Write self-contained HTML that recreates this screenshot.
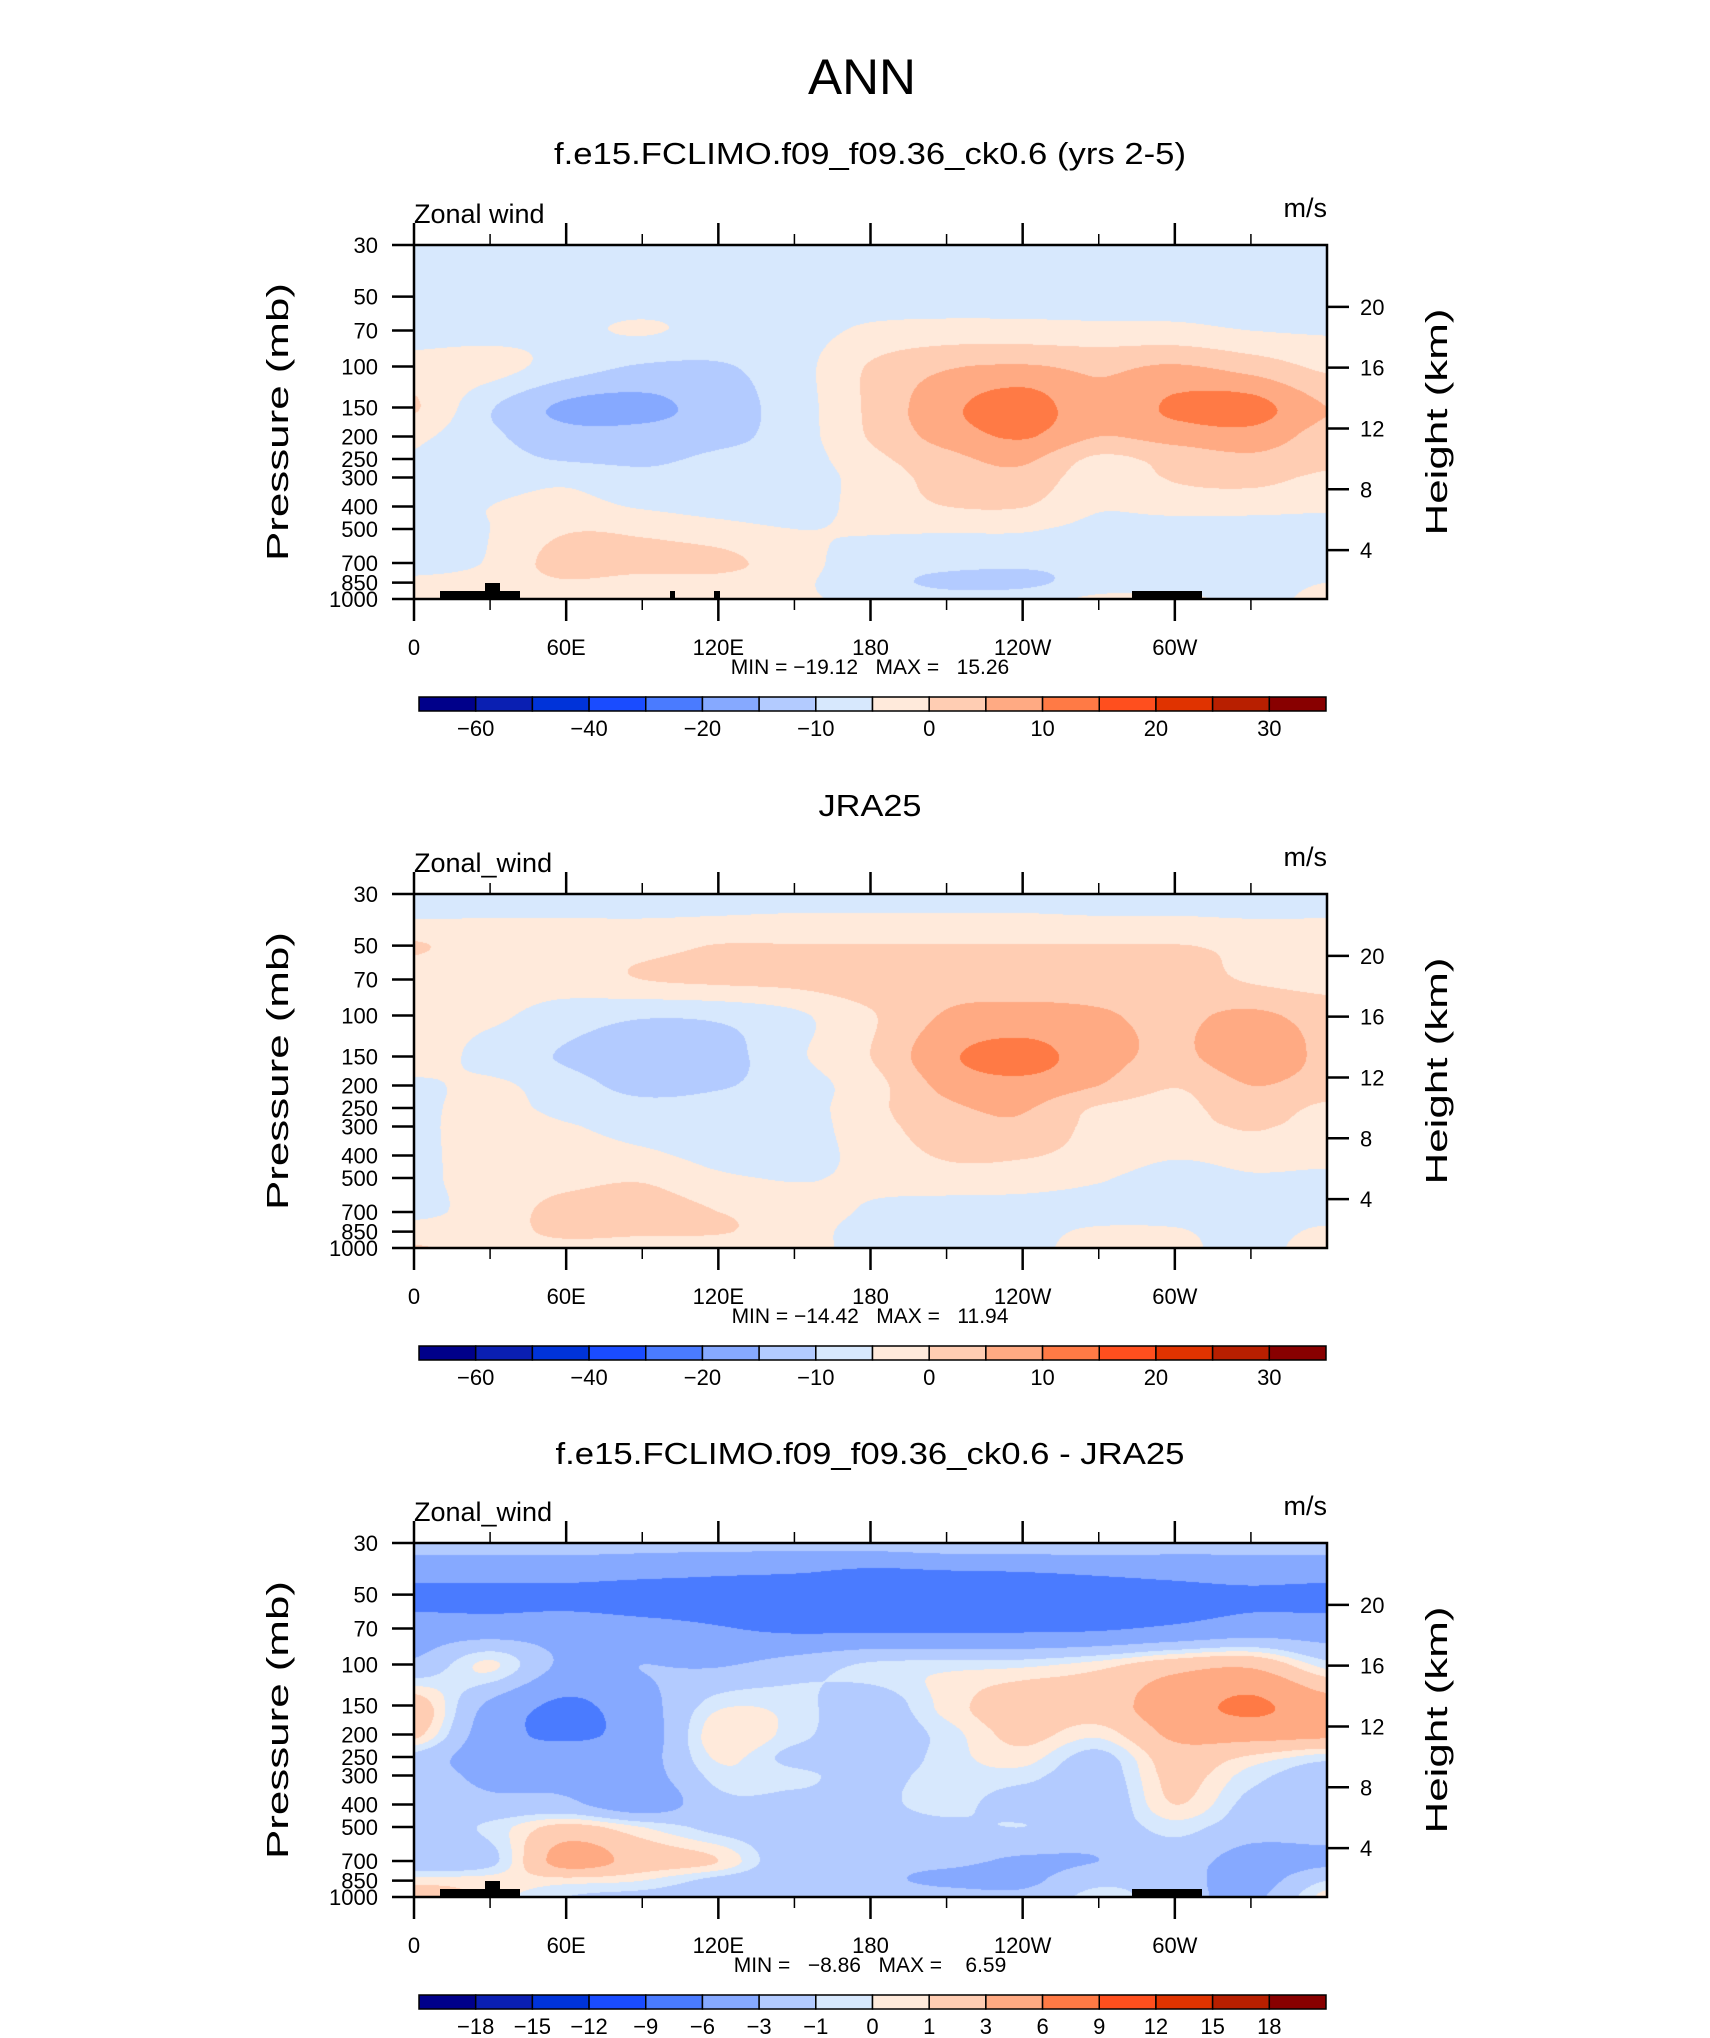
<!DOCTYPE html>
<html><head><meta charset="utf-8">
<style>
html,body{margin:0;padding:0;background:#fff;}
#wrap{position:relative;width:1710px;height:2038px;overflow:hidden;background:#fff;}
canvas{position:absolute;}
svg{position:absolute;left:0;top:0;}
text{font-family:"Liberation Sans Narrow","Liberation Sans",sans-serif;fill:#000;}
</style></head>
<body>
<div id="wrap">
<canvas id="c0" width="913" height="354" style="left:414px;top:245px"></canvas>
<canvas id="c1" width="913" height="354" style="left:414px;top:894px"></canvas>
<canvas id="c2" width="913" height="354" style="left:414px;top:1543px"></canvas>
<svg id="ov" width="1710" height="2038" xmlns="http://www.w3.org/2000/svg">
<text x="862" y="94" font-size="50" textLength="108" lengthAdjust="spacingAndGlyphs" text-anchor="middle" style="font-family:'Liberation Sans',sans-serif;font-weight:300">ANN</text>
<text x="870" y="164" font-size="31" textLength="632" lengthAdjust="spacingAndGlyphs" text-anchor="middle" style="font-family:'Liberation Sans',sans-serif">f.e15.FCLIMO.f09_f09.36_ck0.6 (yrs 2-5)</text>
<text x="870" y="816" font-size="31" textLength="103" lengthAdjust="spacingAndGlyphs" text-anchor="middle" style="font-family:'Liberation Sans',sans-serif">JRA25</text>
<text x="870" y="1464" font-size="31" textLength="629" lengthAdjust="spacingAndGlyphs" text-anchor="middle" style="font-family:'Liberation Sans',sans-serif">f.e15.FCLIMO.f09_f09.36_ck0.6 - JRA25</text>
</svg>
</div>
<script>
const lonGrid=[0,30,60,90,120,150,180,210,240,270,300,330,360];
const presLevels=[30,40,50,70,100,150,200,250,300,400,500,700,850,1000];
const modelValues=[
[-7.5,-7.5,-7.5,-7.5,-7.5,-7.5,-7.5,-7.5,-7.5,-7.5,-7.5,-7.5,-7.5],
[-7.5,-7.5,-7.5,-7.5,-7.5,-7.5,-7.5,-7.5,-7.5,-7.5,-7.5,-7.5,-7.5],
[-7.5,-7.5,-7.5,-7.5,-7.5,-7.5,-7.5,-7.5,-7.5,-7.5,-7.5,-7.5,-7.5],
[-7,-7,-6,-4.6,-6.5,-7,-4,-3,-3,-3.5,-3.5,-5,-5.5],
[-3,-3,-7.5,-10.5,-10.5,-7,0.5,4.5,5.5,4,5.5,3,-1],
[0.5,-9.5,-16,-16.5,-12.5,-7.5,1,8.5,13,6,11,12,5],
[-4,-9,-13,-13,-11.5,-7.5,0.5,7,10.5,5,7,8,3],
[-5.5,-8,-10.5,-11,-9,-7.5,-1.5,3.5,6,-1,2,4,1.5],
[-7.5,-7,-6,-8.5,-8,-7.5,-3,2,3.5,-3,0.5,1.5,-1],
[-7.5,-5,-3.5,-5.5,-7,-7.5,-3,0,0.2,-4.5,-3,-3,-4],
[-7.5,-5,-0.5,-1,-3,-5,-4.5,-4.5,-4.5,-6.5,-7.5,-7.5,-7.5],
[-7,-4.5,2.5,2,1.5,-3,-7.5,-8.5,-9,-8.5,-7.5,-7.5,-7.5],
[-4,-3,-0.5,-2,-2,-4,-8,-11,-11,-8,-7,-7,-5],
[-3,-2.5,-2,-3,-4,-4.5,-6,-8,-7.5,-4,-4,-6,-4]
];
const jraValues=[
[-7.5,-7.5,-7.5,-7.5,-7.5,-7.5,-7.5,-7.5,-7.5,-7.5,-7.5,-7.5,-7.5],
[-4.5,-4.5,-4.5,-4.5,-4,-3.5,-3.5,-3.5,-3.5,-4,-4,-4.5,-4.5],
[0.5,-2.5,-2.5,-1.5,0.2,0.2,0.2,0.2,0.2,0.2,0.2,-1,-2],
[-3,-3,-2.5,0,1,1.5,3,3,3,3,2.5,-0.5,-2],
[-3,-4,-7.5,-9.5,-9,-6,-0.5,5.5,6.5,5.5,4,6,3],
[-2,-7,-10.5,-12.5,-12,-6,0,9,12,7,4,8,4],
[-6,-4,-8,-11.5,-10.5,-7.5,-2,6.5,8.5,5,0.3,5,3],
[-6,-3.5,-6.5,-8.5,-8,-7.5,-1.5,4,5.5,-0.5,-1.5,2.5,-1],
[-6,-3,-4.5,-7,-7,-7.5,-2,2.5,4,-1.5,-2,0.5,-2],
[-6,-3,-2.5,-4,-6.5,-7.5,-3,0.5,0.5,-2,-4.5,-3,-3.5],
[-6,-3,-1.5,-0.5,-4,-5.3,-4,-2,-2.5,-4.5,-7,-5.5,-6],
[-6,-3,2,2.5,0,-3,-5.5,-7.5,-7.5,-7.5,-7,-6.5,-7],
[-3,-2.5,1.5,1,0.5,-3,-6.5,-7.5,-7,-4,-4.5,-7,-4],
[0.5,-2,-2,-3,-3.5,-4,-6,-7.5,-6.5,-3,-3.5,-7,-2]
];
const diffValues=[
[-2.2,-2.2,-2.2,-2.2,-2.2,-2.2,-2,-1.5,-1.5,-1.5,-2,-2.2,-2.2],
[-4.5,-4.5,-4.5,-5,-5.5,-5.8,-6.5,-6.2,-6,-5.5,-5,-4.5,-4.5],
[-7,-7,-7,-7.5,-7.5,-8,-8,-8,-8,-7.5,-7,-6.5,-7],
[-4.5,-4.5,-4.5,-5,-5.8,-6.5,-6.5,-6.5,-6.5,-6.3,-5.5,-4.5,-4.5],
[-2.5,0.2,-3.5,-3,-3.2,-2,-0.8,-0.5,-0.3,0.5,2,2.5,-0.5],
[2,-3.5,-6.5,-4,-0.3,-0.5,-2,0.4,2,2,4.5,6.5,4],
[1.5,-4.5,-6.5,-4.5,0.8,-0.5,-2.2,-0.5,1.5,0.3,3.5,4,3.5],
[-1.5,-4.5,-4.5,-4,0.2,-1.5,-2.2,-0.5,0.5,-1.5,2,0.8,-0.5],
[-2,-3.5,-3.5,-4,-0.5,-0.7,-1.5,-0.5,-0.5,-2,1.5,-0.5,-2],
[-2,-2.5,-2.5,-4.5,-1.5,-1.5,-1.5,-0.5,-2,-2.5,1,-1.5,-2],
[-2,-0.7,1.5,0,-1.5,-2,-2,-1.5,-1,-2,-0.5,-2,-2],
[-2.5,-1.5,4,2,1,-2.5,-2.5,-2.5,-3.3,-3,-2,-4,-3.5],
[0.5,0.5,0.5,0,-1.5,-2.5,-2.5,-3.5,-3.5,-1.5,-2,-4,-1],
[2,0.5,-1,-1.5,-2,-2.5,-1.5,-2,-2.5,-0.5,-2,-3.5,0.5]
];
const windLevels=[-60,-50,-40,-30,-20,-15,-10,-5,0,5,10,15,20,25,30];
const diffLevels=[-18,-15,-12,-9,-6,-3,-1,0,1,3,6,9,12,15,18];
const windLevelLabels=['','-60','','-40','','-20','','-10','','0','','10','','20','','30'];
const diffLevelLabels=['','-18','-15','-12','-9','-6','-3','-1','0','1','3','6','9','12','15','18'];
const minMaxLabels=['MIN = \u221219.12   MAX =   15.26','MIN = \u221214.42   MAX =   11.94','MIN =   \u22128.86   MAX =    6.59'];
const varLabels=['Zonal wind','Zonal_wind','Zonal_wind'];
const presTickValues=[30,50,70,100,150,200,250,300,400,500,700,850,1000];
const heightTickValues=[4,8,12,16,20];
const lonMajorTicks=[0,60,120,180,240,300];
const lonMajorLabels=['0','60E','120E','180','120W','60W'];
const lonMinorTicks=[30,90,150,210,270,330];
const palette=['#00008a','#0a1fb2','#0033d9','#1a4cff','#4a7bff','#86a9ff','#b3cbff','#d7e8fd','#ffeadb','#ffcdb3','#ffaa83','#ff7a45','#ff4f1e','#e03300','#b81f00','#880000'];

const W=913,H=354,X0=414,TOPS=[245,894,1543];
const lnR=Math.log(1000/30);
function yP(p){return Math.log(p/30)/lnR*H;}
function xL(lon){return lon/360*W;}
function pOfY(y){return 30*Math.exp(y/H*lnR);}

function cr(p0,p1,p2,p3,t){return 0.5*((2*p1)+(-p0+p2)*t+(2*p0-5*p1+4*p2-p3)*t*t+(-p0+3*p1-3*p2+p3)*t*t*t);}
function hexRGB(h){return [parseInt(h.substr(1,2),16),parseInt(h.substr(3,2),16),parseInt(h.substr(5,2),16)];}
const palRGB=palette.map(hexRGB);

function drawField(cid,vals,levels){
  const cv=document.getElementById(cid),ctx=cv.getContext('2d');
  const img=ctx.createImageData(W,H);
  const nr=presLevels.length,nc=lonGrid.length;
  const g=(r,c)=>vals[Math.max(0,Math.min(nr-1,r))][Math.max(0,Math.min(nc-1,c))];
  const lonStep=lonGrid[1]-lonGrid[0];
  for(let j=0;j<H;j++){
    const p=pOfY(j+0.5);
    let k=0;while(k<nr-2&&p>presLevels[k+1])k++;
    let ty=Math.log(p/presLevels[k])/Math.log(presLevels[k+1]/presLevels[k]);
    ty=Math.max(0,Math.min(1,ty));
    for(let i=0;i<W;i++){
      const lon=(i+0.5)/W*360;
      let fx=(lon-lonGrid[0])/lonStep;let c=Math.min(nc-2,Math.floor(fx));const tx=fx-c;
      const rows=[];
      for(let r=-1;r<=2;r++){rows.push(cr(g(k+r,c-1),g(k+r,c),g(k+r,c+1),g(k+r,c+2),tx));}
      const v=cr(rows[0],rows[1],rows[2],rows[3],ty);
      let idx=0;for(const L of levels){if(v>=L)idx++;}
      const col=palRGB[idx];const o=(j*W+i)*4;
      img.data[o]=col[0];img.data[o+1]=col[1];img.data[o+2]=col[2];img.data[o+3]=255;
    }
  }
  ctx.putImageData(img,0,0);
}
drawField('c0',modelValues,windLevels);
drawField('c1',jraValues,windLevels);
drawField('c2',diffValues,diffLevels);

const NS='http://www.w3.org/2000/svg';
const svg=document.getElementById('ov');
function mk(tag,attrs,parent){const e=document.createElementNS(NS,tag);for(const k in attrs)e.setAttribute(k,attrs[k]);(parent||svg).appendChild(e);return e;}

function topo(g,withSpikes){
  const blocks=[[440,591,80,8],[485,583,15,16],[1132,591,70,8]];
  if(withSpikes){blocks.push([670,591,5,8]);blocks.push([714,591,6,8]);}
  blocks.forEach(b=>{
    const r=mk('rect',{x:b[0],y:b[1],width:b[2],height:b[3],fill:'#000'},g);
    
    
  });
}

for(let pi=0;pi<3;pi++){
  const top=TOPS[pi];
  const g=mk('g',{transform:'translate(0,'+(top-245)+')'});
  
  
  const T=245;
  if(pi!==1) topo(g,pi===0);
  const fr=mk('rect',{x:X0,y:T,width:W,height:H,fill:'none',stroke:'#000','stroke-width':2.5},g);
  
  
  presTickValues.forEach(p=>{
    const y=T+yP(p);
    const t=mk('line',{x1:X0-22,x2:X0,y1:y,y2:y,stroke:'#000','stroke-width':2.5},g);
    
    
    const l=mk('text',{x:378,y:y+8,'font-size':22,'text-anchor':'end'},g);
    l.textContent=String(p);
    
    
  });
  heightTickValues.forEach(z=>{
    const p=1125*Math.exp(-z/6.64);const y=T+yP(p);
    const t=mk('line',{x1:X0+W,x2:X0+W+22,y1:y,y2:y,stroke:'#000','stroke-width':2.5},g);
    
    
    const l=mk('text',{x:1360,y:y+8,'font-size':22},g);
    l.textContent=String(z);
    
    
  });
  lonMajorTicks.forEach((lon,i)=>{
    const x=X0+xL(lon);
    const a=mk('line',{x1:x,x2:x,y1:T+H,y2:T+H+22,stroke:'#000','stroke-width':2.5},g);
    
    
    const b=mk('line',{x1:x,x2:x,y1:T-22,y2:T,stroke:'#000','stroke-width':2.5},g);
    
    
    const l=mk('text',{x:x,y:T+410,'font-size':22,'text-anchor':'middle'},g);
    l.textContent=lonMajorLabels[i];
    
    
  });
  lonMinorTicks.forEach(lon=>{
    const x=X0+xL(lon);
    const a=mk('line',{x1:x,x2:x,y1:T+H,y2:T+H+11,stroke:'#000','stroke-width':1.5},g);
    
    
    const b=mk('line',{x1:x,x2:x,y1:T-11,y2:T,stroke:'#000','stroke-width':1.5},g);
    
    
  });
  const vl=mk('text',{x:X0,y:T-22,'font-size':27},g);
  vl.textContent=varLabels[pi];
  
  
  const ul=mk('text',{x:X0+W,y:T-28,'font-size':27,'text-anchor':'end'},g);
  ul.textContent='m/s';
  
  
  const pl=mk('text',{x:0,y:0,'font-size':31,'text-anchor':'middle',textLength:278,lengthAdjust:'spacingAndGlyphs',transform:'translate(288,'+(T+177)+') rotate(-90)'},g);
  pl.textContent='Pressure  (mb)';
  
  
  const hl=mk('text',{x:0,y:0,'font-size':31,'text-anchor':'middle',textLength:227,lengthAdjust:'spacingAndGlyphs',transform:'translate(1447,'+(T+177)+') rotate(-90)'},g);
  hl.textContent='Height  (km)';
  
  
  const mm=mk('text',{x:870,y:T+429,'font-size':21,'text-anchor':'middle',style:'white-space:pre'},g);
  mm.textContent=minMaxLabels[pi];
  
  
  const cbX=419,cbW=907,cbY=T+452,cbH=14,n=palette.length,bw=cbW/n;
  const labs=pi===2?diffLevelLabels:windLevelLabels;
  for(let k=0;k<n;k++){
    const r=mk('rect',{x:cbX+k*bw,y:cbY,width:bw,height:cbH,fill:palette[k],stroke:'#000','stroke-width':1.5},g);
    
    
    if(labs[k]){
      const t=mk('text',{x:cbX+k*bw,y:cbY+cbH+25,'font-size':22,'text-anchor':'middle'},g);
      t.textContent=labs[k].replace('-','\u2212');
      
      
    }
  }
}
</script>
</body></html>
